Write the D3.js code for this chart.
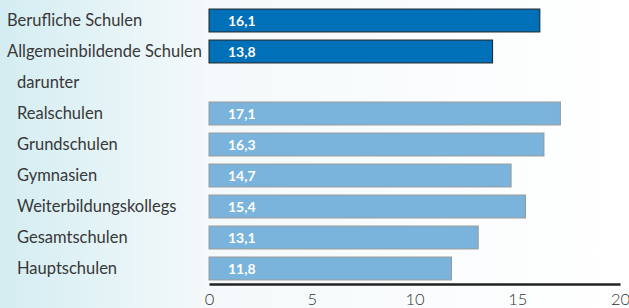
<!DOCTYPE html>
<html>
<head>
<meta charset="utf-8">
<script src="https://cdn.jsdelivr.net/npm/d3@7"></script>
<style>
  html, body { margin: 0; padding: 0; }
  svg { display: block; font-family: Lato, sans-serif; }
</style>
</head>
<body>
<script>
const largura = 629;
const altura = 308;

// dados
const categorias = ["Berufliche Schulen", "Allgemeinbildende Schulen", "darunter",
  "Realschulen", "Grundschulen", "Gymnasien", "Weiterbildungskollegs", "Gesamtschulen", "Hauptschulen"];
const valores = [16.1, 13.8, null, 17.1, 16.3, 14.7, 15.4, 13.1, 11.8];
const recuo = [false, false, true, true, true, true, true, true, true];
const escuro = [true, true, false, false, false, false, false, false, false];
const ticks = [0, 5, 10, 15, 20];

const svg = d3.select("body").append("svg")
  .attr("width", largura)
  .attr("height", altura);

const grad = svg.append("defs").append("linearGradient")
  .attr("id", "fundo").attr("x1", 0).attr("x2", 1).attr("y1", 0).attr("y2", 0);
grad.append("stop").attr("offset", "0").attr("stop-color", "#d4edf2");
grad.append("stop").attr("offset", "0.33").attr("stop-color", "#f4f9fb");
grad.append("stop").attr("offset", "1").attr("stop-color", "#ffffff");

svg.append("rect")
  .attr("width", largura).attr("height", altura)
  .attr("fill", "url(#fundo)");

const x = d3.scaleLinear().domain([0, 20]).range([209, 620]);
const y = d3.scaleBand().domain(categorias).range([5, 284]).paddingInner(0.26).paddingOuter(0.13);

const linhas = svg.append("g").selectAll("g")
  .data(categorias.map((c, i) => ({ c, v: valores[i], recuo: recuo[i], escuro: escuro[i] })))
  .join("g");

linhas.append("text")
  .attr("x", d => d.recuo ? 17 : 7)
  .attr("y", d => y(d.c) + y.bandwidth() / 2)
  .attr("dy", "0.35em")
  .attr("font-size", 16.5)
  .attr("fill", "#383838")
  .text(d => d.c);

const comValor = linhas.filter(d => d.v !== null);

comValor.append("rect")
  .attr("x", x(0))
  .attr("y", d => y(d.c))
  .attr("width", d => x(d.v) - x(0))
  .attr("height", y.bandwidth())
  .attr("fill", d => d.escuro ? "#0070b9" : "#7ab4dc")
  .attr("stroke", d => d.escuro ? "#222" : "#999")
  .attr("stroke-width", 1);

comValor.append("text")
  .attr("x", x(0) + 19)
  .attr("y", d => y(d.c) + y.bandwidth() / 2)
  .attr("dy", "0.36em")
  .attr("font-size", 14)
  .attr("font-weight", "bold")
  .attr("fill", "#fff")
  .text(d => d3.format(".1f")(d.v).replace(".", ","));

const eixo = svg.append("g")
  .attr("transform", `translate(0,284)`)
  .call(d3.axisBottom(x).tickValues(ticks).tickSize(0).tickPadding(9).tickFormat(d => d));

eixo.select(".domain").attr("stroke", "#222").attr("stroke-width", 2.5);
eixo.selectAll("text")
  .attr("font-size", 16.5)
  .attr("font-weight", 300)
  .attr("fill", "#333")
  .attr("font-family", "Lato, sans-serif");
</script>
</body>
</html>
